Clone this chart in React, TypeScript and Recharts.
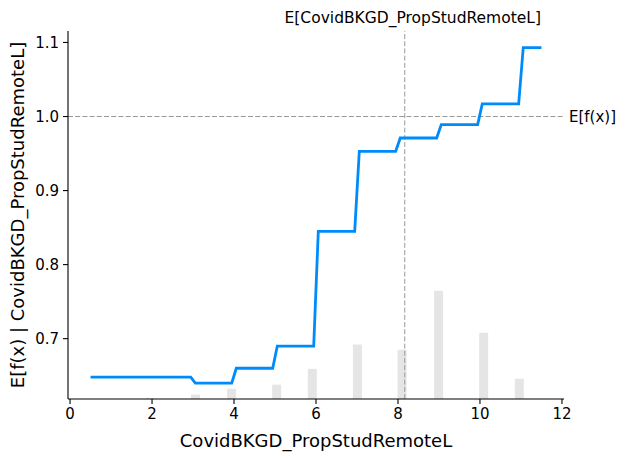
import React from 'react';
import { ComposedChart, Line, XAxis, YAxis, ReferenceLine, ReferenceArea, Label } from 'recharts';

// Partial dependence curve vertices (feature value -> expected model output)
const lineX = [0.5, 2.944, 3.056, 3.944, 4.056, 4.944, 5.056, 5.944, 6.056, 6.944, 7.056, 7.944, 8.056, 8.944, 9.056, 9.944, 10.056, 10.944, 11.056, 11.5];
const lineY = [0.648, 0.648, 0.640, 0.640, 0.660, 0.660, 0.690, 0.690, 0.845, 0.845, 0.953, 0.953, 0.971, 0.971, 0.989, 0.989, 1.017, 1.017, 1.093, 1.093];

// Histogram of feature values (bin centre, share of samples %, bin width)
const histX = [1.95, 3.06, 3.94, 5.04, 5.91, 7.01, 8.1, 8.99, 10.09, 10.96];
const histShare = [0.3, 1.2, 2.8, 3.9, 8.2, 14.8, 13.4, 29.4, 18.0, 5.5];
const histBinWidth = 0.22;

const xTicks = [0, 2, 4, 6, 8, 10, 12];
const yTicks = [0.7, 0.8, 0.9, 1.0, 1.1];

const featureMean = 8.165;
const predMean = 1.0;

const featureName = 'CovidBKGD_PropStudRemoteL';

const lineData = lineX.map((x, i) => ({ x, y: lineY[i] }));
const histData = histX.map((x, i) => ({ x0: x - histBinWidth / 2, x1: x + histBinWidth / 2, share: histShare[i] }));

const FONT = 'DejaVu Sans, sans-serif';

export default function App() {
  return (
    <div style={{ position: 'absolute', left: 0, top: 0 }}>
      <ComposedChart
        width={626}
        height={459}
        data={lineData}
        margin={{ top: 31, right: 62, bottom: 0, left: 0 }}
        style={{ fontFamily: FONT }}
      >
        <XAxis
          dataKey="x"
          type="number"
          domain={[-0.05, 12.05]}
          ticks={xTicks}
          allowDataOverflow
          height={60}
          tickSize={5}
          tickMargin={4}
          axisLine={{ stroke: '#000', strokeWidth: 1.1 }}
          tickLine={{ stroke: '#000', strokeWidth: 1.1 }}
          tick={{ fill: '#000', fontSize: 15, fontFamily: FONT }}
        >
          <Label value={featureName} position="insideBottom" offset={12} style={{ fill: '#000', fontSize: 18, fontFamily: FONT }} />
        </XAxis>
        <YAxis
          yAxisId="left"
          type="number"
          domain={[0.6185, 1.1155]}
          ticks={yTicks}
          allowDataOverflow
          width={68}
          tickSize={5}
          tickMargin={4}
          tickFormatter={(v: number) => v.toFixed(1)}
          axisLine={{ stroke: '#000', strokeWidth: 1.1 }}
          tickLine={{ stroke: '#000', strokeWidth: 1.1 }}
          tick={{ fill: '#000', fontSize: 15, fontFamily: FONT }}
        >
          <Label
            content={(props: any) => {
              const vb = props.viewBox || { x: 0, y: 31, width: 68, height: 368 };
              const cx = 17;
              const cy = vb.y + vb.height / 2;
              return (
                <text
                  x={cx}
                  y={cy}
                  transform={`rotate(-90 ${cx} ${cy})`}
                  textAnchor="middle"
                  dominantBaseline="central"
                  fontSize={18}
                  fontFamily={FONT}
                  fill="#000"
                >
                  {`E[f(x) | ${featureName}]`}
                </text>
              );
            }}
          />
        </YAxis>
        <YAxis yAxisId="hist" orientation="right" hide domain={[0, 100]} allowDataOverflow />
        {histData.map((b, i) => (
          <ReferenceArea
            key={i}
            yAxisId="hist"
            x1={b.x0}
            x2={b.x1}
            y1={0}
            y2={b.share}
            fill="#000"
            fillOpacity={0.1}
            stroke="none"
          />
        ))}
        <ReferenceLine
          yAxisId="left"
          x={featureMean}
          stroke="#999"
          strokeWidth={1}
          strokeDasharray="5 2.2"
          label={{ value: `E[${featureName}]`, position: 'top', offset: 8, dx: 8, fill: '#000', fontSize: 15.5, fontFamily: FONT }}
        />
        <ReferenceLine
          yAxisId="left"
          y={predMean}
          stroke="#999"
          strokeWidth={1}
          strokeDasharray="5 2.2"
          label={{ value: 'E[f(x)]', position: 'right', offset: 5, fill: '#000', fontSize: 15, fontFamily: FONT }}
        />
        <Line
          yAxisId="left"
          dataKey="y"
          type="linear"
          stroke="#008bfb"
          strokeWidth={2.8}
          dot={false}
          activeDot={false}
          isAnimationActive={false}
        />
      </ComposedChart>
    </div>
  );
}
